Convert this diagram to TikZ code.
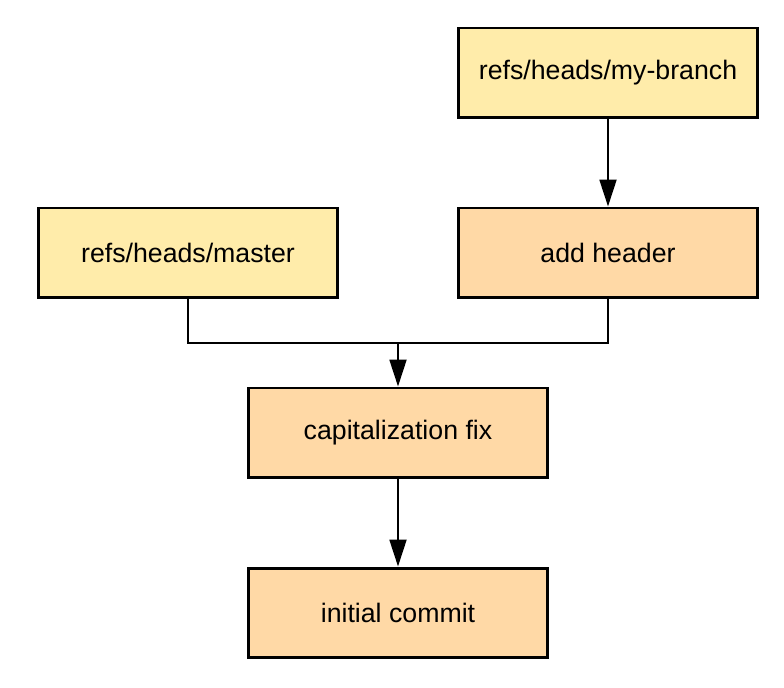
\documentclass[tikz,border=0pt]{standalone}
\usepackage{fontspec}
\setmainfont{Liberation Sans}
\usetikzlibrary{arrows.meta}
\definecolor{refyellow}{HTML}{FFECAA}
\definecolor{commitorange}{HTML}{FFD9A6}

\begin{document}
\begin{tikzpicture}[x = 0.02cm, y = -0.02cm,
  box/.style = {draw = black, line width = 1.7pt, minimum width = 5.98cm, minimum height = 1.8cm, font = \fontsize{15.2}{18}\selectfont},
  ref/.style = {box, fill = refyellow},
  commit/.style = {box, fill = commitorange},
  link/.style = {line width = 1.3pt},
  arr/.style = {link, -{Triangle[width = 9.6pt, length = 15.3pt]}}]
\useasboundingbox (0,0) rectangle (784,688);
\node[ref] (mybranch) at (608,73) {refs/heads/my-branch};
\node[ref] (master) at (188,253) {refs/heads/master};
\node[commit] (header) at (608,253) {add header};
\node[commit] (capfix) at (398,433) {capitalization fix};
\node[commit] (initial) at (398,613) {initial commit};
\coordinate (join) at (398,343);
\draw[arr] (mybranch) -- (header);
\draw[link] (master.south) |- (join);
\draw[link] (header.south) |- (join);
\draw[arr] (join) -- (capfix.north);
\draw[arr] (capfix) -- (initial);
\end{tikzpicture}
\end{document}
